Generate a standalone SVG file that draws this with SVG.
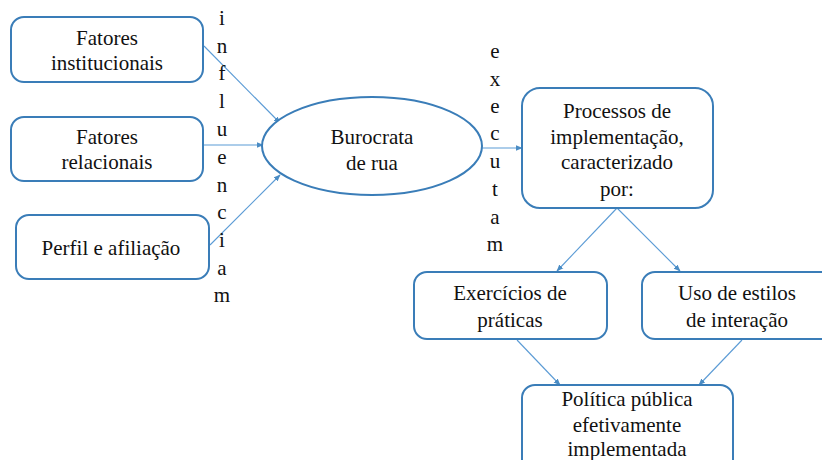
<svg xmlns="http://www.w3.org/2000/svg" width="822" height="460" viewBox="0 0 822 460">
<defs>
<marker id="ah" viewBox="0 0 10 10" refX="9" refY="5" markerWidth="7" markerHeight="7" orient="auto" markerUnits="userSpaceOnUse">
<path d="M0,1 L10,5 L0,9 z" fill="#4a8cc4"/>
</marker>
<style>
.box{fill:#fff;stroke:#3a7db8;stroke-width:2}
text{font-family:"Liberation Serif","Times New Roman",Times,Tinos,"Noto Serif","DejaVu Serif",FreeSerif,serif;font-size:21px;fill:#111;text-anchor:middle}
.c{stroke:#5b9bd5;stroke-width:1.1;fill:none;marker-end:url(#ah)}
</style>
</defs>
<rect width="822" height="460" fill="#fff"/>
<g id="connectors">
<line class="c" x1="204" y1="46" x2="280" y2="123"/>
<line class="c" x1="204" y1="145" x2="263" y2="145"/>
<line class="c" x1="210" y1="245" x2="280" y2="175"/>
<line class="c" x1="482" y1="148" x2="522" y2="148"/>
<line class="c" x1="617" y1="208" x2="557" y2="271"/>
<line class="c" x1="617" y1="208" x2="680" y2="271"/>
<line class="c" x1="517" y1="340" x2="560" y2="385"/>
<line class="c" x1="742" y1="340" x2="699" y2="385"/>
</g>
<g id="n1">
<rect class="box" x="11" y="17" width="192" height="65" rx="13"/>
<text x="107" y="45">Fatores</text>
<text x="107" y="70">institucionais</text>
</g>
<g id="n2">
<rect class="box" x="11" y="117" width="192" height="64" rx="13"/>
<text x="107" y="144">Fatores</text>
<text x="107" y="169">relacionais</text>
</g>
<g id="n3">
<rect class="box" x="16" y="215" width="193" height="64" rx="13"/>
<text x="111" y="255">Perfil e afiliação</text>
</g>
<g id="label-influenciam">
<text x="222" y="25">i</text>
<text x="222" y="53">n</text>
<text x="222" y="80">f</text>
<text x="222" y="108">l</text>
<text x="222" y="136">u</text>
<text x="222" y="164">e</text>
<text x="222" y="192">n</text>
<text x="222" y="219">c</text>
<text x="222" y="247">i</text>
<text x="222" y="275">a</text>
<text x="222" y="302">m</text>
</g>
<g id="n4">
<ellipse class="box" cx="372" cy="146" rx="110" ry="49"/>
<text x="372" y="144">Burocrata</text>
<text x="372" y="170">de rua</text>
</g>
<g id="label-executam">
<text x="495" y="58">e</text>
<text x="495" y="86">x</text>
<text x="495" y="113">e</text>
<text x="495" y="140">c</text>
<text x="495" y="168">u</text>
<text x="495" y="196">t</text>
<text x="495" y="224">a</text>
<text x="495" y="251">m</text>
</g>
<g id="n5">
<rect class="box" x="522" y="88" width="191" height="120" rx="18"/>
<text x="617" y="118">Processos de</text>
<text x="617" y="144">implementação,</text>
<text x="617" y="169">caracterizado</text>
<text x="617" y="196">por:</text>
</g>
<g id="n6">
<rect class="box" x="414" y="272" width="193" height="67" rx="13"/>
<text x="510" y="300">Exercícios de</text>
<text x="510" y="327">práticas</text>
</g>
<g id="n7">
<rect class="box" x="642" y="272" width="192" height="67" rx="13"/>
<text x="737" y="300">Uso de estilos</text>
<text x="737" y="327">de interação</text>
</g>
<g id="n8">
<rect class="box" x="522" y="385" width="211" height="90" rx="13"/>
<text x="627" y="406">Política pública</text>
<text x="627" y="432">efetivamente</text>
<text x="627" y="456">implementada</text>
</g>
</svg>
